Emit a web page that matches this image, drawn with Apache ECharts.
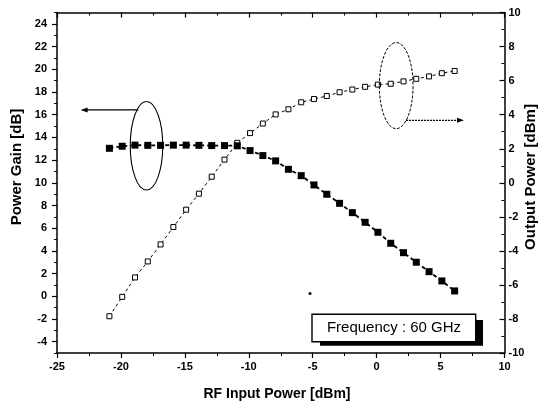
<!DOCTYPE html>
<html>
<head>
<meta charset="utf-8">
<script src="https://cdn.jsdelivr.net/npm/echarts@6/dist/echarts.min.js"></script>
<style>html,body{margin:0;padding:0;background:#fff;}#c{width:550px;height:407px;}</style>
</head>
<body>
<div id="c"></div>
<script>
const inputPower = [-20.9,-19.9,-18.9,-17.9,-16.9,-15.9,-14.9,-13.9,-12.9,-11.9,-10.9,-9.9,-8.9,-7.9,-6.9,-5.9,-4.9,-3.9,-2.9,-1.9,-0.9,0.1,1.1,2.1,3.1,4.1,5.1,6.1];
const gain = [13.04,13.22,13.32,13.30,13.30,13.32,13.32,13.30,13.28,13.28,13.26,12.84,12.40,11.93,11.19,10.63,9.81,8.99,8.19,7.37,6.52,5.64,4.67,3.84,3.00,2.17,1.35,0.47];
const outputPower = [-7.84,-6.70,-5.56,-4.62,-3.62,-2.60,-1.58,-0.64,0.36,1.36,2.35,2.92,3.48,4.02,4.32,4.73,4.92,5.10,5.32,5.48,5.64,5.77,5.82,5.96,6.11,6.25,6.44,6.57];
const gainLabelTicks = [-4,-2,0,2,4,6,8,10,12,14,16,18,20,22,24];
const gainMinorTicks = [-5,-3,-1,1,3,5,7,9,11,13,15,17,19,21,23,25];

const FONT = '"Liberation Sans", Arial, sans-serif';
const chart = echarts.init(document.getElementById('c'), null, {renderer: 'canvas'});
const lab = {color: '#000', fontFamily: FONT, fontSize: 11, fontWeight: 'bold'};
const line = {show: true, onZero: false, lineStyle: {color: '#000', width: 1.5}};

chart.setOption({
  animation: false,
  backgroundColor: '#fff',
  grid: {left: 57, right: 45.5, top: 12.6, bottom: 54, containLabel: false},
  xAxis: [
    {type: 'value', min: -25, max: 10, interval: 5, position: 'bottom',
     axisLine: line, axisTick: {inside: false, length: 5, lineStyle: {color: '#000', width: 1.2}},
     minorTick: {show: true, splitNumber: 2, length: 3, lineStyle: {color: '#000', width: 1}},
     axisLabel: Object.assign({margin: 8}, lab), splitLine: {show: false}},
    {type: 'value', min: -25, max: 10, interval: 5, position: 'top',
     axisLine: line, axisTick: {inside: true, length: 5, lineStyle: {color: '#000', width: 1.2}},
     minorTick: {show: true, splitNumber: 2, length: 3, lineStyle: {color: '#000', width: 1}},
     axisLabel: {show: false}, splitLine: {show: false}}
  ],
  yAxis: [
    {type: 'value', min: -5, max: 25, position: 'left',
     axisLine: line, axisTick: {inside: false, length: 5, customValues: gainLabelTicks, lineStyle: {color: '#000', width: 1.2}},
     axisLabel: Object.assign({margin: 10, customValues: gainLabelTicks}, lab), splitLine: {show: false}},
    {type: 'value', min: -10, max: 10, interval: 2, position: 'right',
     axisLine: line, axisTick: {inside: true, length: 5, lineStyle: {color: '#000', width: 1.2}},
     minorTick: {show: true, splitNumber: 2, length: 3, lineStyle: {color: '#000', width: 1}},
     axisLabel: Object.assign({margin: 4}, lab), splitLine: {show: false}},
    {type: 'value', min: -5, max: 25, position: 'left',
     axisLine: {show: false, onZero: false}, axisTick: {inside: false, length: 3, customValues: gainMinorTicks, lineStyle: {color: '#000', width: 1}},
     axisLabel: {show: false}, splitLine: {show: false}}
  ],
  series: [
    {name: 'Power Gain', type: 'line', xAxisIndex: 0, yAxisIndex: 0,
     data: inputPower.map((x, i) => [x, gain[i]]),
     symbol: 'rect', symbolSize: 7, itemStyle: {color: '#000'},
     lineStyle: {color: '#000', width: 1.8, type: [4, 3]}, z: 3},
    {name: 'Output Power', type: 'line', xAxisIndex: 0, yAxisIndex: 1,
     data: inputPower.map((x, i) => [x, outputPower[i]]),
     symbol: 'rect', symbolSize: 5, itemStyle: {color: '#fff', borderColor: '#000', borderWidth: 1},
     lineStyle: {color: '#000', width: 1, type: [3, 3]}, z: 2}
  ]
});

// annotation anchors in data coordinates
const P = (si, x, y) => chart.convertToPixel({seriesIndex: si}, [x, y]);
const e1c = P(0, -18.0, 13.26), e1r = P(0, -18.0 + 1.27, 13.26 + 3.9);
const e2c = P(1, 1.53, 5.71), e2r = P(1, 1.53 + 1.32, 5.71 + 2.53);
const a1s = P(0, -18.64, 16.42), a1e = P(0, -23.15, 16.42);
const a2s = P(1, 2.29, 3.67), a2e = P(1, 6.83, 3.67);

chart.setOption({
  graphic: [
    {type: 'ellipse', shape: {cx: e1c[0], cy: e1c[1], rx: Math.abs(e1r[0] - e1c[0]), ry: Math.abs(e1r[1] - e1c[1])},
     style: {fill: 'none', stroke: '#000', lineWidth: 1.1}, z: 10},
    {type: 'ellipse', shape: {cx: e2c[0], cy: e2c[1], rx: Math.abs(e2r[0] - e2c[0]), ry: Math.abs(e2r[1] - e2c[1])},
     style: {fill: 'none', stroke: '#000', lineWidth: 1, lineDash: [3, 1.5]}, z: 10},
    {type: 'line', shape: {x1: a1s[0], y1: a1s[1], x2: a1e[0] + 4, y2: a1e[1]},
     style: {stroke: '#000', lineWidth: 1.2}, z: 10},
    {type: 'polygon', shape: {points: [[a1e[0], a1e[1]], [a1e[0] + 7, a1e[1] - 2.5], [a1e[0] + 7, a1e[1] + 2.5]]},
     style: {fill: '#000'}, z: 10},
    {type: 'line', shape: {x1: a2s[0], y1: a2s[1], x2: a2e[0] - 4, y2: a2e[1]},
     style: {stroke: '#000', lineWidth: 1.2, lineDash: [2, 1]}, z: 10},
    {type: 'polygon', shape: {points: [[a2e[0], a2e[1]], [a2e[0] - 7, a2e[1] - 2.5], [a2e[0] - 7, a2e[1] + 2.5]]},
     style: {fill: '#000'}, z: 10},
    // frequency box with shadow
    {type: 'rect', shape: {x: 320, y: 320, width: 163, height: 25.7}, style: {fill: '#000'}, z: 10},
    {type: 'rect', shape: {x: 312, y: 314.3, width: 163.7, height: 27.4}, style: {fill: '#fff', stroke: '#000', lineWidth: 1.4}, z: 11},
    {type: 'text', x: 394, y: 328, style: {text: 'Frequency : 60 GHz', fill: '#000', font: '15px ' + FONT, align: 'center', verticalAlign: 'middle'}, z: 12},
    // scan speck
    {type: 'circle', shape: {cx: 310, cy: 293.5, r: 1.5}, style: {fill: '#000'}, z: 10},
    // axis titles
    {type: 'text', x: 17, y: 167, rotation: Math.PI / 2, style: {text: 'Power Gain [dB]', fill: '#000', font: 'bold 15px ' + FONT, align: 'center', verticalAlign: 'middle'}},
    {type: 'text', x: 531, y: 177, rotation: Math.PI / 2, style: {text: 'Output Power [dBm]', fill: '#000', font: 'bold 15px ' + FONT, align: 'center', verticalAlign: 'middle'}},
    {type: 'text', x: 277, y: 394, style: {text: 'RF Input Power [dBm]', fill: '#000', font: 'bold 14px ' + FONT, align: 'center', verticalAlign: 'middle'}}
  ]
});
</script>
</body>
</html>
